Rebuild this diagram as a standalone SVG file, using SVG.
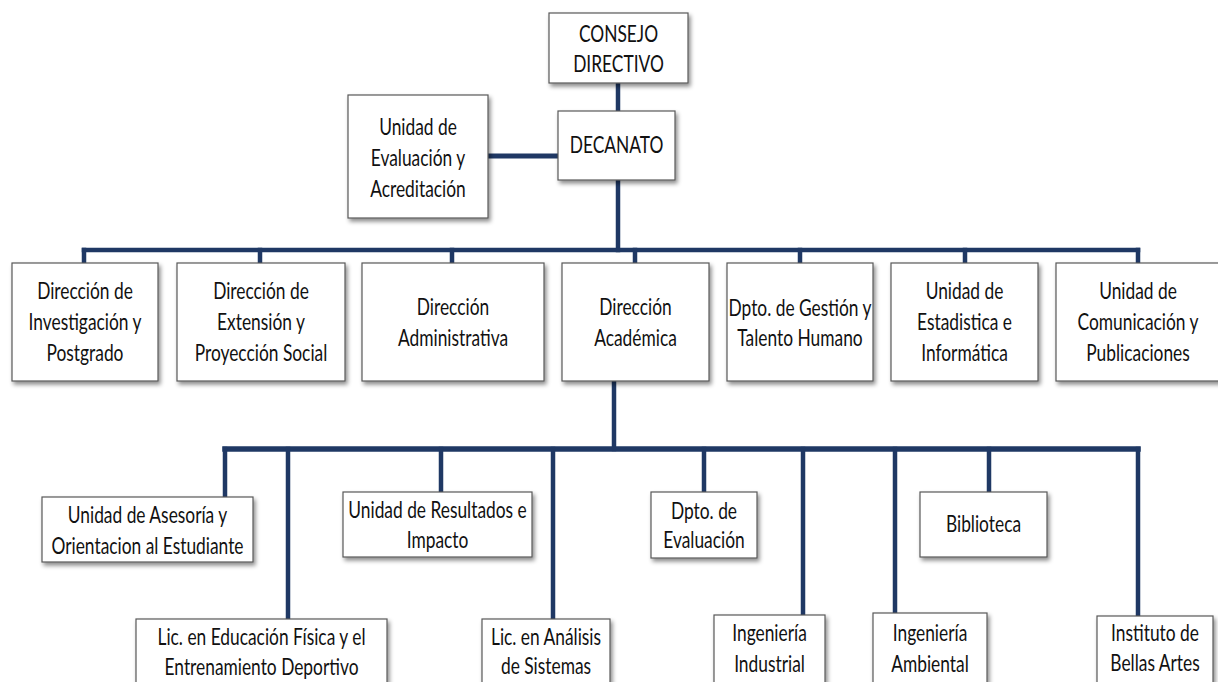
<svg xmlns="http://www.w3.org/2000/svg" width="1218" height="682" viewBox="0 0 1218 682">
<defs>
<filter id="sh" x="-10%" y="-10%" width="125%" height="135%">
<feDropShadow dx="2" dy="3" stdDeviation="2" flood-color="#000" flood-opacity="0.45"/>
</filter>
<style>
.b{fill:#fff;stroke:#595959;stroke-width:1.2;filter:url(#sh)}
.t{font-family:Lato,"Open Sans",sans-serif;font-size:23px;fill:#111;text-anchor:middle}
.c{stroke:#1f3864;stroke-width:4.5;fill:none;stroke-linecap:square}
</style>
</defs>
<rect width="1218" height="682" fill="#fff"/>
<g id="connectors" class="c">
<path d="M618 83V111"/>
<path d="M488 156H558" stroke-width="5"/>
<path d="M618 180V250"/>
<path d="M84 250H1138"/>
<path d="M84 250V263M260 250V263M452 250V263M635 250V263M800 250V263M965 250V263M1138 250V263"/>
<path d="M614 381V449"/>
<path d="M225 449H1138" stroke-width="5.5"/>
<path d="M225 449V497M288 449V619M441 449V492M553 449V619M704 449V492M803 449V615M895 449V613M989 449V492M1138 449V616"/>
</g>
<g id="consejo"><rect class="b" x="549" y="13" width="139" height="70"/>
<text class="t" transform="translate(618.5 0) scale(0.755 1)"><tspan x="0" y="42">CONSEJO</tspan><tspan x="0" y="72">DIRECTIVO</tspan></text></g>
<g id="decanato"><rect class="b" x="558" y="111" width="117" height="69"/>
<text class="t" transform="translate(616.5 0) scale(0.755 1)"><tspan x="0" y="153">DECANATO</tspan></text></g>
<g id="evaluacion-acreditacion"><rect class="b" x="348" y="95" width="140" height="123"/>
<text class="t" transform="translate(418 0) scale(0.755 1)"><tspan x="0" y="135">Unidad de</tspan><tspan x="0" y="166">Evaluación y</tspan><tspan x="0" y="197">Acreditación</tspan></text></g>

<g id="investigacion"><rect class="b" x="12" y="263" width="146" height="118"/>
<text class="t" transform="translate(85 0) scale(0.755 1)"><tspan x="0" y="299">Dirección de</tspan><tspan x="0" y="330">Investigación y</tspan><tspan x="0" y="361">Postgrado</tspan></text></g>
<g id="extension"><rect class="b" x="177" y="263" width="168" height="118"/>
<text class="t" transform="translate(261 0) scale(0.755 1)"><tspan x="0" y="299">Dirección de</tspan><tspan x="0" y="330">Extensión y</tspan><tspan x="0" y="361">Proyección Social</tspan></text></g>
<g id="administrativa"><rect class="b" x="362" y="263" width="182" height="118"/>
<text class="t" transform="translate(453 0) scale(0.755 1)"><tspan x="0" y="315">Dirección</tspan><tspan x="0" y="346">Administrativa</tspan></text></g>
<g id="academica"><rect class="b" x="562" y="263" width="147" height="118"/>
<text class="t" transform="translate(635.5 0) scale(0.755 1)"><tspan x="0" y="315">Dirección</tspan><tspan x="0" y="346">Académica</tspan></text></g>
<g id="gestion"><rect class="b" x="727" y="263" width="146" height="118"/>
<text class="t" transform="translate(800 0) scale(0.755 1)"><tspan x="0" y="316">Dpto. de Gestión y</tspan><tspan x="0" y="346">Talento Humano</tspan></text></g>
<g id="estadistica"><rect class="b" x="891" y="263" width="147" height="118"/>
<text class="t" transform="translate(964.5 0) scale(0.755 1)"><tspan x="0" y="299">Unidad de</tspan><tspan x="0" y="330">Estadistica e</tspan><tspan x="0" y="361">Informática</tspan></text></g>
<g id="comunicacion"><rect class="b" x="1056" y="263" width="166" height="118"/>
<text class="t" transform="translate(1138 0) scale(0.755 1)"><tspan x="0" y="299">Unidad de</tspan><tspan x="0" y="330">Comunicación y</tspan><tspan x="0" y="361">Publicaciones</tspan></text></g>

<g id="asesoria"><rect class="b" x="42" y="497" width="211" height="65"/>
<text class="t" transform="translate(147.5 0) scale(0.755 1)"><tspan x="0" y="523">Unidad de Asesoría y</tspan><tspan x="0" y="554">Orientacion al Estudiante</tspan></text></g>
<g id="resultados"><rect class="b" x="343" y="492" width="189" height="65"/>
<text class="t" transform="translate(437.5 0) scale(0.755 1)"><tspan x="0" y="518">Unidad de Resultados e</tspan><tspan x="0" y="548">Impacto</tspan></text></g>
<g id="dpto-evaluacion"><rect class="b" x="651" y="492" width="106" height="66"/>
<text class="t" transform="translate(704 0) scale(0.755 1)"><tspan x="0" y="519">Dpto. de</tspan><tspan x="0" y="548">Evaluación</tspan></text></g>
<g id="biblioteca"><rect class="b" x="920" y="492" width="127" height="65"/>
<text class="t" transform="translate(983.5 0) scale(0.755 1)"><tspan x="0" y="532">Biblioteca</tspan></text></g>

<g id="educacion-fisica"><rect class="b" x="136" y="619" width="251" height="70"/>
<text class="t" transform="translate(261.5 0) scale(0.755 1)"><tspan x="0" y="645">Lic. en Educación Física y el</tspan><tspan x="0" y="675">Entrenamiento Deportivo</tspan></text></g>
<g id="analisis-sistemas"><rect class="b" x="482" y="619" width="128" height="70"/>
<text class="t" transform="translate(546 0) scale(0.755 1)"><tspan x="0" y="645">Lic. en Análisis</tspan><tspan x="0" y="674">de Sistemas</tspan></text></g>
<g id="ing-industrial"><rect class="b" x="714" y="615" width="111" height="74"/>
<text class="t" transform="translate(769.5 0) scale(0.755 1)"><tspan x="0" y="641">Ingeniería</tspan><tspan x="0" y="672">Industrial</tspan></text></g>
<g id="ing-ambiental"><rect class="b" x="873" y="613" width="114" height="76"/>
<text class="t" transform="translate(930 0) scale(0.755 1)"><tspan x="0" y="641">Ingeniería</tspan><tspan x="0" y="672">Ambiental</tspan></text></g>
<g id="bellas-artes"><rect class="b" x="1097" y="616" width="116" height="73"/>
<text class="t" transform="translate(1155 0) scale(0.755 1)"><tspan x="0" y="641">Instituto de</tspan><tspan x="0" y="671">Bellas Artes</tspan></text></g>
</svg>
